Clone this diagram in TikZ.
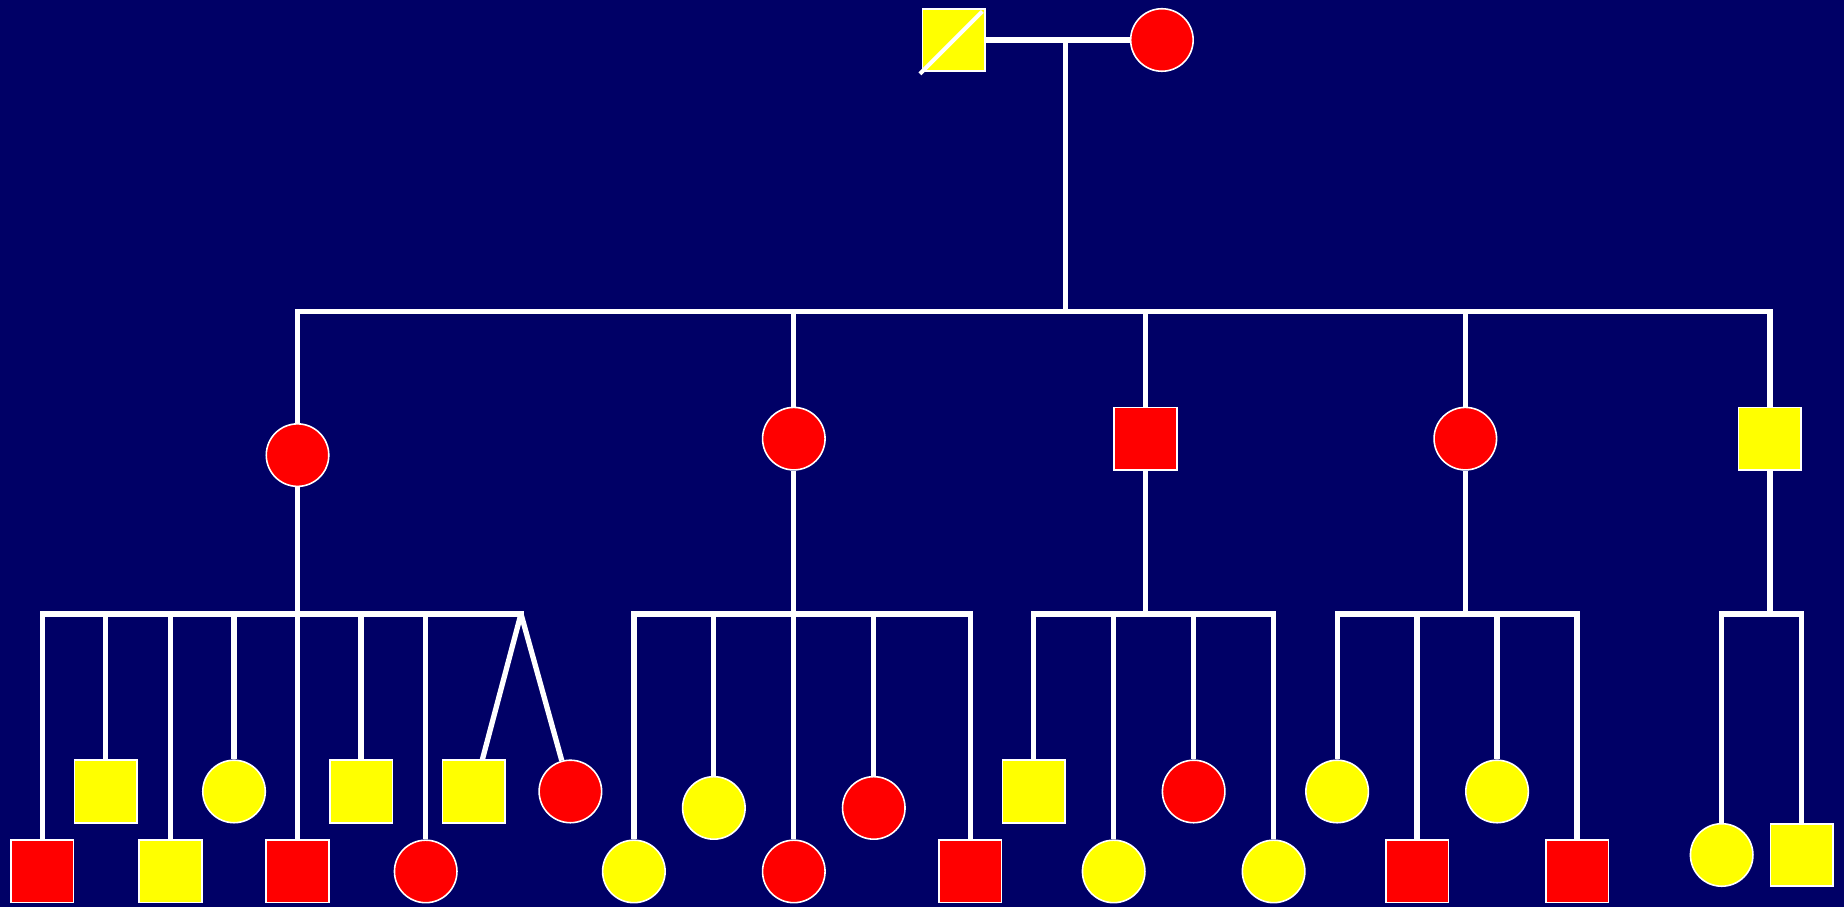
\documentclass[tikz,border=0pt]{standalone}
\definecolor{bg}{RGB}{0,0,102}
\definecolor{pr}{RGB}{255,0,0}
\definecolor{py}{RGB}{255,255,0}
\tikzset{
 ln/.style={white, line width=3pt},
 sq/.style={rectangle, draw=white, line width=0.9pt, minimum size=1.25cm, inner sep=0pt},
 ci/.style={circle, draw=white, line width=0.9pt, minimum size=1.25cm, inner sep=0pt},
 R/.style={fill=pr}, Y/.style={fill=py}
}
\begin{document}
\begin{tikzpicture}[x=0.02352cm, y=-0.02352cm]
\useasboundingbox (0,0) rectangle (1568,770.4);
\fill[bg] (-10,-10) rectangle (1580,785);
% generation I
\node[sq,Y] (f) at (811,34) {};
\node[ci,R] (m) at (988,34) {};
\coordinate (cm) at (906,34);
\coordinate (g2) at (906,265);
\draw[ln] (f) -- (m);
\draw[ln] (cm) -- (g2);
\draw[white, line width=2.4pt] ([shift={(-1.5,1.5)}]f.south west) -- ([shift={(-3,3)}]f.north east);
% generation II
\coordinate (g2l) at (253,265);
\coordinate (g2r) at (1505,265);
\draw[ln, line cap=rect] (g2l) -- (g2r);
\node[ci,R] (a) at (253,387) {};
\node[ci,R] (b) at (675,373) {};
\node[sq,R] (c) at (974,373) {};
\node[ci,R] (d) at (1246,373) {};
\node[sq,Y] (e) at (1505,373) {};
\foreach \n in {a,b,c,d,e} {\draw[ln] (\n |- g2l) -- (\n);}
% sibship lines generation III
\coordinate (L1a) at (36,522);  \coordinate (L1b) at (443,522);
\coordinate (L2a) at (539,522); \coordinate (L2b) at (825,522);
\coordinate (L3a) at (879,522); \coordinate (L3b) at (1083,522);
\coordinate (L4a) at (1137,522);\coordinate (L4b) at (1341,522);
\coordinate (L5a) at (1464,522);\coordinate (L5b) at (1532,522);
\foreach \g in {1,2,3,4,5} {\draw[ln, line cap=rect] (L\g a) -- (L\g b);}
\draw[ln] (a) -- (a |- L1a);
\draw[ln] (b) -- (b |- L2a);
\draw[ln] (c) -- (c |- L3a);
\draw[ln] (d) -- (d |- L4a);
\draw[ln] (e) -- (e |- L5a);
% generation III group 1
\node[sq,R] (p1) at (36,741) {};
\node[sq,Y] (p2) at (90,673) {};
\node[sq,Y] (p3) at (145,741) {};
\node[ci,Y] (p4) at (199,673) {};
\node[sq,R] (p5) at (253,741) {};
\node[sq,Y] (p6) at (307,673) {};
\node[ci,R] (p7) at (362,741) {};
\node[sq,Y] (p8) at (403,673) {};
\node[ci,R] (p9) at (485,673) {};
\foreach \n in {p1,p2,p3,p4,p5,p6,p7} {\draw[ln] (\n |- L1a) -- (\n);}
\draw[ln] (L1b) -- (p8);
\draw[ln] (L1b) -- (p9);
% group 2
\node[ci,Y] (q1) at (539,741) {};
\node[ci,Y] (q2) at (607,687) {};
\node[ci,R] (q3) at (675,741) {};
\node[ci,R] (q4) at (743,687) {};
\node[sq,R] (q5) at (825,741) {};
\foreach \n in {q1,q2,q3,q4,q5} {\draw[ln] (\n |- L2a) -- (\n);}
% group 3
\node[sq,Y] (r1) at (879,673) {};
\node[ci,Y] (r2) at (947,741) {};
\node[ci,R] (r3) at (1015,673) {};
\node[ci,Y] (r4) at (1083,741) {};
\foreach \n in {r1,r2,r3,r4} {\draw[ln] (\n |- L3a) -- (\n);}
% group 4
\node[ci,Y] (s1) at (1137,673) {};
\node[sq,R] (s2) at (1205,741) {};
\node[ci,Y] (s3) at (1273,673) {};
\node[sq,R] (s4) at (1341,741) {};
\foreach \n in {s1,s2,s3,s4} {\draw[ln] (\n |- L4a) -- (\n);}
% group 5
\node[ci,Y] (t1) at (1464,727) {};
\node[sq,Y] (t2) at (1532,727) {};
\foreach \n in {t1,t2} {\draw[ln] (\n |- L5a) -- (\n);}
\end{tikzpicture}
\end{document}
